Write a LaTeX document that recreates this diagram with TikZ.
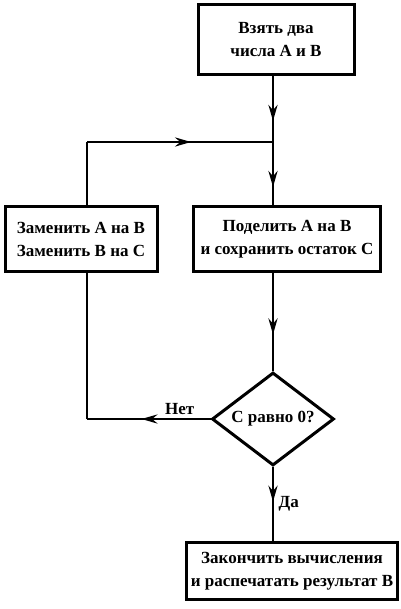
\documentclass[tikz,border=0pt]{standalone}
\usepackage{fontspec}
\setmainfont{Liberation Serif}
\usetikzlibrary{shapes.geometric,decorations.markings,arrows.meta}

\begin{document}
\begin{tikzpicture}[x=1pt, y=-1pt, line width=2.8pt,
    txt/.style={font=\bfseries\fontsize{17}{23}\selectfont},
    stepbox/.style={draw, rectangle, line width=3pt, align=center, inner sep=0pt, txt},
    decision/.style={draw, diamond, line width=3pt, inner sep=0pt, aspect=1.3, txt},
    midarrow/.style={postaction={decorate}, decoration={markings,
        mark=at position #1 with {\arrow{Stealth[length=16pt, width=9pt]}}}}]
    \useasboundingbox (0,0) rectangle (400,609);

    % Start
    \node[stepbox, minimum width=156pt, minimum height=70pt] (start) at (276,40) {Взять два\\числа А и В};

    % Loop body and division
    \node[stepbox, minimum width=152pt, minimum height=64pt] (swap) at (81,239) {Заменить А на В\\Заменить В на С};
    \node[stepbox, minimum width=187pt, minimum height=64pt] (divide) at (287,239) {Поделить А на В\\и сохранить остаток С};

    % Test
    \node[decision, minimum width=122pt, minimum height=93pt] (check) at (273,419) {С равно 0?};

    % End
    \node[stepbox, minimum width=211pt, minimum height=57pt] (finish) at (292,571) {Закончить вычисления\\и распечатать результат В};

    % Bends
    \coordinate (junction) at (273,142);
    \coordinate (loop) at (87,142);
    \coordinate (corner) at (87,419);

    % Edges
    \draw[midarrow=0.68] (start.south -| junction) -- (junction);
    \draw[midarrow=0.71] (junction) -- (divide.north -| junction);
    \draw[midarrow=0.63] (divide.south -| check) -- (check.north);
    \draw[midarrow=0.56] (check.west) -- node[txt, above, pos=0.25] {Нет} (corner);
    \draw (corner) -- (swap.south -| corner);
    \draw (swap.north -| loop) -- (loop);
    \draw[midarrow=0.56] (loop) -- (junction);
    \draw[midarrow=0.47] (check.south) -- node[txt, right, pos=0.5, xshift=1pt] {Да} (finish.north -| check);
\end{tikzpicture}
\end{document}
